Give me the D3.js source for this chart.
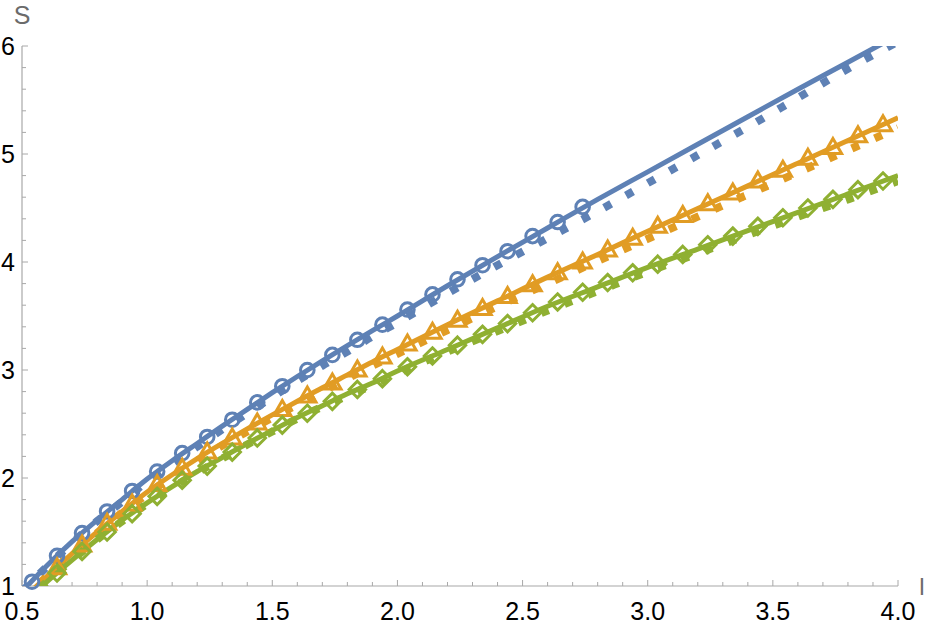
<!DOCTYPE html>
<html><head><meta charset="utf-8">
<script src="https://cdn.jsdelivr.net/npm/d3@7"></script>
<style>body{margin:0;background:#fff}svg{display:block}</style>
</head><body>
<svg id="c" width="926" height="628"></svg>
<script>
// ---- data ----
const xTicks = [0.5, 1.0, 1.5, 2.0, 2.5, 3.0, 3.5, 4.0];
const yTicks = [1, 2, 3, 4, 5, 6];
const xLabel = "l";
const yLabel = "S";

const lineGrid = [0.5,0.6,0.7,0.8,0.9,1.0,1.1,1.2,1.3,1.4,1.5,1.6,1.7,1.8,1.9,2.0,2.2,2.4,2.6,2.8,3.0,3.2,3.4,3.6,3.8,4.0];
const blueSolid   = [0.95,1.19,1.41,1.61,1.80,1.99,2.16,2.32,2.48,2.635,2.79,2.94,3.085,3.225,3.365,3.50,3.78,4.05,4.315,4.58,4.835,5.09,5.345,5.60,5.85,6.10];
const orangeSolid = [0.87,1.09,1.30,1.50,1.69,1.87,2.03,2.18,2.32,2.455,2.585,2.71,2.835,2.955,3.075,3.19,3.42,3.64,3.86,4.07,4.285,4.495,4.705,4.915,5.125,5.335];
const greenSolid  = [0.82,1.04,1.24,1.43,1.61,1.77,1.92,2.06,2.19,2.32,2.44,2.56,2.67,2.78,2.88,2.99,3.19,3.39,3.59,3.77,3.95,4.12,4.29,4.46,4.63,4.80];
const blueDotted   = [0.95,1.18,1.40,1.60,1.78,1.97,2.13,2.29,2.45,2.60,2.75,2.90,3.04,3.17,3.31,3.44,3.71,3.97,4.22,4.47,4.73,4.99,5.25,5.52,5.79,6.04];
const orangeDotted = [0.87,1.09,1.30,1.49,1.68,1.85,2.01,2.16,2.30,2.43,2.56,2.68,2.80,2.92,3.04,3.15,3.37,3.59,3.80,4.01,4.215,4.42,4.625,4.83,5.035,5.24];
const greenDotted  = [0.82,1.04,1.24,1.43,1.60,1.76,1.91,2.05,2.18,2.31,2.43,2.55,2.66,2.76,2.86,2.97,3.17,3.36,3.55,3.73,3.91,4.08,4.25,4.42,4.58,4.75];

const circleL = [0.54,0.64,0.74,0.84,0.94,1.04,1.14,1.24,1.34,1.44,1.54,1.64,1.74,1.84,1.94,2.04,2.14,2.24,2.34,2.44,2.54,2.64,2.74];
const blueMarks = [1.04,1.28,1.49,1.69,1.88,2.06,2.23,2.38,2.54,2.70,2.85,3.00,3.14,3.28,3.42,3.56,3.70,3.84,3.97,4.10,4.24,4.37,4.51];
const markL = [0.64,0.74,0.84,0.94,1.04,1.14,1.24,1.34,1.44,1.54,1.64,1.74,1.84,1.94,2.04,2.14,2.24,2.34,2.44,2.54,2.64,2.74,2.84,2.94,3.04,3.14,3.24,3.34,3.44,3.54,3.64,3.74,3.84,3.94];
const orangeMarks = [1.17,1.38,1.58,1.76,1.94,2.09,2.24,2.37,2.51,2.635,2.76,2.88,3.00,3.12,3.24,3.35,3.46,3.57,3.68,3.79,3.90,4.00,4.11,4.22,4.33,4.43,4.54,4.64,4.75,4.85,4.96,5.06,5.17,5.27];
const greenMarks = [1.12,1.32,1.50,1.67,1.83,1.98,2.11,2.24,2.37,2.49,2.60,2.71,2.82,2.92,3.03,3.13,3.23,3.33,3.43,3.53,3.63,3.72,3.81,3.90,3.98,4.07,4.16,4.24,4.33,4.41,4.50,4.58,4.67,4.75];

const colors = {blue:"#5e81b5", orange:"#e19c24", green:"#8fb032"};

// ---- drawing ----
const svg = d3.select("#c");
const x = d3.scaleLinear().domain([0.5, 4]).range([22, 898]);
const y = d3.scaleLinear().domain([1, 6]).range([586, 46]);
const axisColor = "#a8a8a8";

svg.append("defs").append("clipPath").attr("id","clip")
  .append("rect").attr("x",22).attr("y",46).attr("width",876).attr("height",540);

// axes
const g = svg.append("g");
g.append("line").attr("x1",x(0.5)).attr("x2",x(4)).attr("y1",y(1)).attr("y2",y(1)).attr("stroke",axisColor).attr("stroke-width",1.2);
g.append("line").attr("x1",x(0.5)).attr("x2",x(0.5)).attr("y1",y(1)).attr("y2",y(6)).attr("stroke",axisColor).attr("stroke-width",1.2);

const xMinor = d3.range(5, 41).map(v => v/10).filter(v => !xTicks.some(t => Math.abs(t-v)<1e-6));
const yMinor = d3.range(5, 31).map(v => v/5).filter(v => !yTicks.some(t => Math.abs(t-v)<1e-6));
g.selectAll(".xt").data(xTicks).join("line").attr("x1",d=>x(d)).attr("x2",d=>x(d)).attr("y1",y(1)).attr("y2",y(1)-6).attr("stroke",axisColor);
g.selectAll(".xm").data(xMinor).join("line").attr("x1",d=>x(d)).attr("x2",d=>x(d)).attr("y1",y(1)).attr("y2",y(1)-4).attr("stroke",axisColor);
g.selectAll(".yt").data(yTicks).join("line").attr("y1",d=>y(d)).attr("y2",d=>y(d)).attr("x1",x(0.5)).attr("x2",x(0.5)+6).attr("stroke",axisColor);
g.selectAll(".ym").data(yMinor).join("line").attr("y1",d=>y(d)).attr("y2",d=>y(d)).attr("x1",x(0.5)).attr("x2",x(0.5)+4).attr("stroke",axisColor);

const font = "'Liberation Sans', Arial, sans-serif";
g.selectAll(".xl").data(xTicks).join("text").attr("x",d=>x(d)).attr("y",620)
  .attr("text-anchor","middle").attr("font-family",font).attr("font-size",25).attr("fill","#000")
  .text(d=>d3.format(".1f")(d));
g.selectAll(".yl").data(yTicks).join("text").attr("x",15).attr("y",d=>y(d)).attr("dy","0.36em")
  .attr("text-anchor","end").attr("font-family",font).attr("font-size",25).attr("fill","#000")
  .text(d=>d);
svg.append("text").attr("x",22).attr("y",24).attr("text-anchor","middle").attr("font-family",font)
  .attr("font-size",25).attr("fill","#6b6b6b").text(yLabel);
svg.append("text").attr("x",922).attr("y",595).attr("text-anchor","middle").attr("font-family",font)
  .attr("font-size",24).attr("fill","#6b6b6b").text(xLabel);

// series
const series = [
  {c:colors.blue, solid:blueSolid, dotted:blueDotted, ml:circleL, mv:blueMarks, shape:"circle"},
  {c:colors.orange, solid:orangeSolid, dotted:orangeDotted, ml:markL, mv:orangeMarks, shape:"triangle"},
  {c:colors.green, solid:greenSolid, dotted:greenDotted, ml:markL, mv:greenMarks, shape:"diamond"}
];
const line = d3.line().x(d=>x(d[0])).y(d=>y(d[1])).curve(d3.curveMonotoneX);
const plot = svg.append("g").attr("clip-path","url(#clip)");

series.forEach(s => {
  const mg = svg.append("g").attr("fill","none").attr("stroke",s.c).attr("stroke-width",3);
  const pts = s.ml.map((l,i)=>[l, s.mv[i]]).filter(p=>p[1]>=1 && p[1]<=6);
  if (s.shape==="circle") {
    mg.selectAll("circle").data(pts).join("circle").attr("cx",d=>x(d[0])).attr("cy",d=>y(d[1])).attr("r",6.8);
  } else if (s.shape==="triangle") {
    const r = 10;
    mg.selectAll("path").data(pts).join("path")
      .attr("d",d=>{const cx=x(d[0]), cy=y(d[1])+1;
        return `M${cx},${cy-r}L${cx+r*0.866},${cy+r*0.5}L${cx-r*0.866},${cy+r*0.5}Z`;})
      .attr("stroke-linejoin","miter");
  } else {
    const r = 8.2;
    mg.selectAll("path").data(pts).join("path")
      .attr("d",d=>{const cx=x(d[0]), cy=y(d[1]);
        return `M${cx},${cy-r}L${cx+r},${cy}L${cx},${cy+r}L${cx-r},${cy}Z`;});
  }
  plot.append("path").datum(lineGrid.map((l,i)=>[l, s.solid[i]]))
    .attr("d",line).attr("fill","none").attr("stroke",s.c).attr("stroke-width",5);
  plot.append("path").datum(lineGrid.map((l,i)=>[l, s.dotted[i]]))
    .attr("d",line).attr("fill","none").attr("stroke",s.c).attr("stroke-width",8)
    .attr("stroke-dasharray","8,17");
});
</script>
</body></html>
